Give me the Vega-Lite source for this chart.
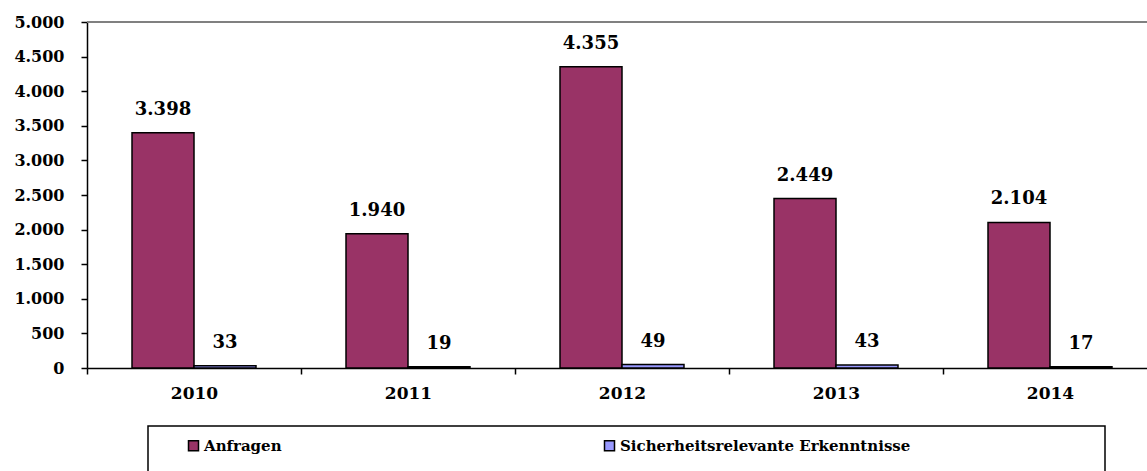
{
  "$schema": "https://vega.github.io/schema/vega-lite/v6.json",
  "width": 1070,
  "height": 346,
  "autosize": {"type": "none"},
  "padding": {"left": 87, "top": 22, "right": 0, "bottom": 103},
  "background": "white",
  "data": {
    "values": [
      {"year": "2010", "series": "Anfragen", "value": 3398},
      {"year": "2010", "series": "Sicherheitsrelevante Erkenntnisse", "value": 33},
      {"year": "2011", "series": "Anfragen", "value": 1940},
      {"year": "2011", "series": "Sicherheitsrelevante Erkenntnisse", "value": 19},
      {"year": "2012", "series": "Anfragen", "value": 4355},
      {"year": "2012", "series": "Sicherheitsrelevante Erkenntnisse", "value": 49},
      {"year": "2013", "series": "Anfragen", "value": 2449},
      {"year": "2013", "series": "Sicherheitsrelevante Erkenntnisse", "value": 43},
      {"year": "2014", "series": "Anfragen", "value": 2104},
      {"year": "2014", "series": "Sicherheitsrelevante Erkenntnisse", "value": 17}
    ]
  },
  "layer": [
    {
      "mark": {"type": "rule", "color": "#808080", "strokeWidth": 1.5},
      "encoding": {"y": {"datum": 5000, "type": "quantitative"}}
    },
    {
      "mark": {"type": "bar", "stroke": "black", "strokeWidth": 1.5},
      "encoding": {
        "x": {"field": "year", "type": "nominal", "scale": {"paddingInner": 0, "paddingOuter": 0}},
        "xOffset": {"field": "series", "type": "nominal", "scale": {"paddingInner": 0, "paddingOuter": 0.726}},
        "y": {"field": "value", "type": "quantitative"},
        "color": {"field": "series", "type": "nominal", "legend": {"title": "\u00a0"}}
      }
    },
    {
      "mark": {"type": "text", "baseline": "bottom", "dy": -14, "font": "DejaVu Serif", "fontWeight": "bold", "fontSize": 18, "color": "black"},
      "encoding": {
        "x": {"field": "year", "type": "nominal"},
        "xOffset": {"field": "series", "type": "nominal"},
        "y": {"field": "value", "type": "quantitative"},
        "text": {"field": "value", "type": "quantitative", "format": ",d"}
      }
    }
  ],
  "config": {
    "locale": {"number": {"decimal": ",", "thousands": ".", "grouping": [3], "currency": ["", " €"]}},
    "view": {"stroke": null},
    "range": {"category": ["#993366", "#9999FF"]},
    "axisX": {
      "title": null, "labelAngle": 0, "tickBand": "extent", "domainColor": "black", "domainWidth": 1.5,
      "tickColor": "black", "tickWidth": 1.5, "tickSize": 6, "labelFont": "DejaVu Serif", "labelFontWeight": "bold",
      "labelFontSize": 17, "labelColor": "black", "labelPadding": 11
    },
    "axisY": {
      "title": null, "grid": false, "domainColor": "black", "domainWidth": 1.5, "tickColor": "black", "tickWidth": 1.5,
      "tickSize": 6, "labelFont": "DejaVu Serif", "labelFontWeight": "bold", "labelFontSize": 16, "labelColor": "black",
      "labelPadding": 17, "values": [0, 500, 1000, 1500, 2000, 2500, 3000, 3500, 4000, 4500, 5000], "format": ",d"
    },
    "legend": {
      "orient": "none", "legendX": 61, "legendY": 404, "direction": "horizontal", "columns": 2, "gridAlign": "all",
      "columnPadding": 81, "padding": 12, "strokeColor": "black", "strokeWidth": 1.5, "fillColor": "white",
      "symbolType": "square", "symbolSize": 100, "symbolStrokeColor": "black", "symbolStrokeWidth": 1.5, "symbolOpacity": 1,
      "symbolOffset": 26, "labelFont": "DejaVu Serif", "labelFontWeight": "bold", "labelFontSize": 15, "labelColor": "black",
      "labelOffset": 3, "labelLimit": 400, "titleOrient": "right", "titlePadding": 183, "titleFontSize": 30
    }
  }
}
